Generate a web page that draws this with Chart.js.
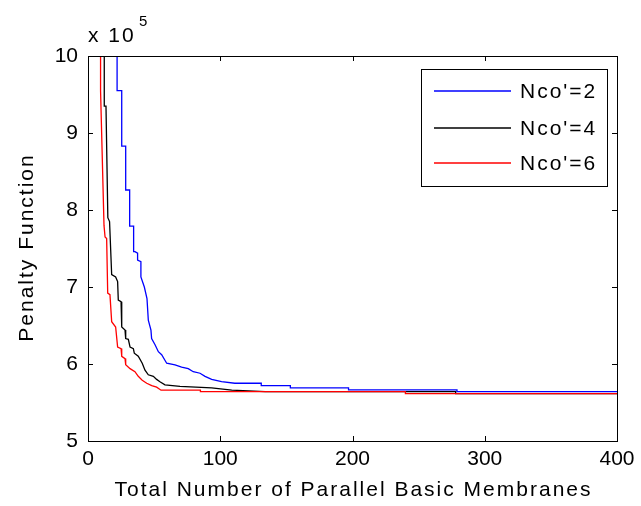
<!DOCTYPE html>
<html>
<head>
<meta charset="utf-8">
<script src="https://cdn.jsdelivr.net/npm/chart.js@4.4.0/dist/chart.umd.min.js"></script>
<style>
  html, body { margin: 0; padding: 0; background: #fff; }
</style>
</head>
<body>
<canvas id="penalty" width="641" height="506"></canvas>
<script>
// values (y in units of 10^5)
var blueX = [22, 22, 25.5, 25.5, 28.5, 28.5, 31.5, 31.5, 34.5, 34.5, 35.5, 37.5, 37.5, 40, 40, 42.6, 44.6, 45.6, 47.6, 48.1, 50.7, 53.2, 55.7, 59.5, 65.8, 70.8, 75.8, 79.6, 84.7, 88.5, 93.5, 101, 111, 131, 131, 153, 153, 197, 197, 279, 279, 400];
var blueY = [11, 9.55, 9.55, 8.83, 8.83, 8.26, 8.26, 7.79, 7.79, 7.46, 7.46, 7.44, 7.35, 7.33, 7.13, 7.00, 6.85, 6.57, 6.44, 6.33, 6.25, 6.16, 6.12, 6.01, 5.99, 5.96, 5.94, 5.90, 5.88, 5.84, 5.80, 5.77, 5.75, 5.75, 5.72, 5.72, 5.69, 5.69, 5.665, 5.665, 5.64, 5.64];

var blackX = [12.3, 12.3, 13.6, 15.0, 16.3, 17.9, 20.9, 22.4, 22.9, 25, 25.5, 28, 28.5, 30.5, 31.8, 34.3, 35, 38, 41, 43.1, 45.6, 49.4, 51.9, 54.4, 58.2, 69.6, 93.5, 108.7, 134, 278, 278, 400];
var blackY = [11, 9.35, 9.35, 7.90, 7.85, 7.16, 7.13, 7.07, 6.83, 6.81, 6.48, 6.44, 6.33, 6.32, 6.22, 6.20, 6.14, 6.10, 6.01, 5.92, 5.86, 5.84, 5.80, 5.77, 5.73, 5.71, 5.69, 5.66, 5.64, 5.64, 5.615, 5.615];

var redX = [9.5, 9.5, 12.1, 12.9, 14.1, 14.9, 16.6, 17.9, 20.9, 22.4, 25, 25.5, 28, 28.5, 31.8, 35.5, 38, 41, 44.4, 48.2, 51.9, 55.2, 85, 85, 240, 240, 400];
var redY = [11, 9.55, 7.80, 7.65, 7.63, 6.92, 6.90, 6.55, 6.48, 6.22, 6.20, 6.10, 6.07, 5.99, 5.94, 5.90, 5.84, 5.79, 5.75, 5.72, 5.70, 5.66, 5.66, 5.64, 5.64, 5.615, 5.615];

var seriesNames = ["Nco'=2", "Nco'=4", "Nco'=6"];
var seriesColors = ['#0000ff', '#000000', '#ff0000'];
var xTicks = [0, 100, 200, 300, 400];
var yTicks = [5, 6, 7, 8, 9, 10];
var xTitle = 'Total Number of Parallel Basic Membranes';
var yTitle = 'Penalty Function';

var FONT = '"Liberation Sans", Arial, sans-serif';

function pts(xs, ys) {
    return xs.map(function (x, i) { return { x: x, y: ys[i] }; });
}

// axes box, inward ticks, titles, exponent label and boxed legend like the matlab figure
var matlabLook = {
    id: 'matlabLook',
    afterDraw: function (chart) {
        var ctx = chart.ctx, a = chart.chartArea;
        var xs = chart.scales.x, ys = chart.scales.y;
        ctx.save();
        ctx.strokeStyle = '#000';
        ctx.lineWidth = 1;
        ctx.strokeRect(a.left + 0.5, a.top + 0.5, a.right - a.left, a.bottom - a.top);
        ctx.beginPath();
        xTicks.forEach(function (v) {
            var px = Math.round(xs.getPixelForValue(v)) + 0.5;
            ctx.moveTo(px, a.bottom); ctx.lineTo(px, a.bottom - 5);
            ctx.moveTo(px, a.top); ctx.lineTo(px, a.top + 5);
        });
        yTicks.forEach(function (v) {
            var py = Math.round(ys.getPixelForValue(v)) + 0.5;
            ctx.moveTo(a.left, py); ctx.lineTo(a.left + 5, py);
            ctx.moveTo(a.right, py); ctx.lineTo(a.right - 5, py);
        });
        ctx.stroke();

        ctx.fillStyle = '#000';
        ctx.letterSpacing = '2px';
        ctx.font = '21px ' + FONT;

        // axis titles
        ctx.textAlign = 'center';
        ctx.textBaseline = 'middle';
        ctx.fillText(xTitle, (a.left + a.right) / 2 + 1, 490);
        ctx.save();
        ctx.translate(27, (a.top + a.bottom) / 2);
        ctx.rotate(-Math.PI / 2);
        ctx.fillText(yTitle, 1, 0);
        ctx.restore();

        // x 10^5
        ctx.textBaseline = 'alphabetic';
        ctx.textAlign = 'left';
        ctx.fillText('x 10', a.left, 42);
        ctx.font = '15px ' + FONT;
        ctx.fillText('5', 139, 26);

        // legend
        var bx = 421, by = 69, bw = 186, bh = 117;
        ctx.fillStyle = '#fff';
        ctx.fillRect(bx, by, bw, bh);
        ctx.strokeStyle = '#000';
        ctx.strokeRect(bx + 0.5, by + 0.5, bw, bh);
        var rows = [91, 128, 163];
        ctx.font = '21px ' + FONT;
        ctx.textBaseline = 'middle';
        seriesNames.forEach(function (name, i) {
            ctx.strokeStyle = seriesColors[i];
            ctx.lineWidth = 1.4;
            ctx.beginPath();
            ctx.moveTo(434, rows[i]);
            ctx.lineTo(511, rows[i]);
            ctx.stroke();
            ctx.fillStyle = '#000';
            ctx.fillText(name, 520, rows[i] + 1);
        });
        ctx.restore();
    }
};

var ctx = document.getElementById('penalty').getContext('2d');
var myChart = new Chart(ctx, {
    type: 'line',
    data: {
        datasets: [
            { label: seriesNames[0], data: pts(blueX, blueY), borderColor: seriesColors[0], order: 2 },
            { label: seriesNames[1], data: pts(blackX, blackY), borderColor: seriesColors[1], order: 1 },
            { label: seriesNames[2], data: pts(redX, redY), borderColor: seriesColors[2], order: 0 }
        ]
    },
    options: {
        responsive: false,
        animation: false,
        events: [],
        elements: {
            line: { borderWidth: 1.3, tension: 0, fill: false },
            point: { radius: 0 }
        },
        layout: {
            padding: { left: 0, right: 24, top: 56, bottom: 0 }
        },
        scales: {
            x: {
                type: 'linear',
                min: 0, max: 400,
                grid: { display: false, drawTicks: false },
                border: { display: false },
                afterBuildTicks: function (s) { s.ticks = xTicks.map(function (v) { return { value: v }; }); },
                afterFit: function (s) { s.height = 65; },
                ticks: { color: '#000', padding: 6, maxRotation: 0, font: { family: FONT, size: 21 } },
                title: { display: false }
            },
            y: {
                type: 'linear',
                min: 5, max: 10,
                grid: { display: false, drawTicks: false },
                border: { display: false },
                afterBuildTicks: function (s) { s.ticks = yTicks.map(function (v) { return { value: v }; }); },
                afterFit: function (s) { s.width = 88; },
                ticks: { color: '#000', padding: 10, font: { family: FONT, size: 21 } },
                title: { display: false }
            }
        },
        plugins: {
            legend: { display: false },
            tooltip: { enabled: false },
            title: { display: false }
        }
    },
    plugins: [matlabLook]
});
</script>
</body>
</html>
